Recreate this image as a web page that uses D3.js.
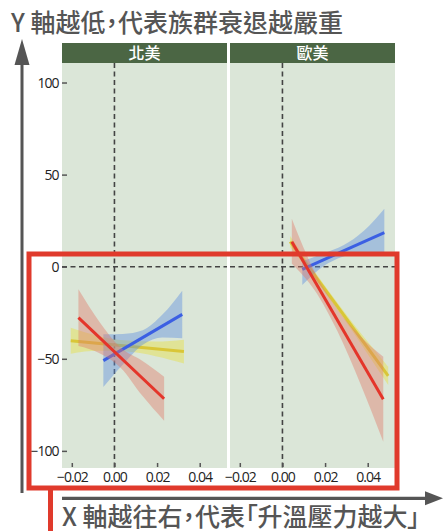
<!DOCTYPE html>
<html>
<head>
<meta charset="utf-8">
<script src="https://cdn.jsdelivr.net/npm/d3@7"></script>
<style>
  body { margin: 0; background: #fff; }
  text { font-family: "Noto Sans CJK TC", "Noto Sans", sans-serif; }
  .note { fill: #555; font-size: 25px; font-weight: 500; font-feature-settings: "palt"; }
  .axis text { fill: #222; font-size: 14px; font-family: "Open Sans", sans-serif; letter-spacing: -1px; }
  .axis line { stroke: #555; stroke-width: 1.5; }
  .axis path { display: none; }
</style>
</head>
<body>
<div id="my_dataviz"></div>
<script>
// data: each row is [x, fit, lower, upper]
var panels = ["北美", "歐美"];
var xTicks = [-0.02, 0, 0.02, 0.04];
var yTicks = [-100, -50, 0, 50, 100];

var naYellow = [[-0.0205, -40.2, -47.2, -33.2], [-0.0073, -41.7, -45.7, -37.7], [0.006, -43.1, -46.1, -40.1], [0.0193, -44.6, -48.6, -40.6], [0.0326, -46.1, -52.6, -39.6]];
var naBlue = [[-0.0052, -51.0, -65.3, -36.7], [0.004, -44.8, -53.1, -36.5], [0.0133, -38.5, -42.4, -34.5], [0.0225, -32.2, -38.4, -26.0], [0.0318, -25.9, -38.8, -13.0]];
var naRed = [[-0.0169, -27.7, -43.1, -12.3], [-0.007, -38.5, -47.0, -30.0], [0.003, -49.5, -55.0, -44.0], [0.013, -60.5, -70.0, -51.0], [0.0233, -71.7, -83.7, -59.7]];

var euYellow = [[0.0036, 13.6, 10.6, 16.6], [0.0151, -4.6, -6.6, -2.6], [0.0266, -22.8, -24.8, -20.8], [0.0381, -41.1, -44.1, -38.1], [0.0496, -59.3, -64.3, -54.3]];
var euBlue = [[0.0093, -1.4, -10.0, 3.0], [0.019, 3.6, 0.1, 7.1], [0.0286, 8.6, 5.6, 11.6], [0.0382, 13.5, 7.5, 19.5], [0.0478, 18.5, 7.5, 31.5]];
var euRed = [[0.0044, 13.6, 1.6, 26.1], [0.0151, -7.8, -12.8, -2.8], [0.0258, -29.1, -35.1, -23.1], [0.0366, -50.7, -63.7, -37.7], [0.0473, -72.0, -95.0, -48.9]];

var panelSeries = [[naYellow, naBlue, naRed], [euYellow, euBlue, euRed]];
var lineColors = ["#d9c637", "#3b5fe3", "#e4352a"];
var bandColors = ["#e8df3c", "#5b8de0", "#df7a6a"];

// sizes
var W = 443, H = 531;
var panelW = 165, panelGap = 3, left = 62, stripTop = 43, stripH = 20, plotTop = 63, plotBottom = 468;

var svg = d3.select("#my_dataviz")
  .append("svg")
    .attr("width", W)
    .attr("height", H);

var x = d3.scaleLinear().domain([-0.0246, 0.0528]).range([0, panelW]);
var y = d3.scaleLinear().domain([-109.3, 110.6]).range([plotBottom, plotTop]);

var band = d3.area()
  .x(d => x(d[0]))
  .y0(d => y(d[2]))
  .y1(d => y(d[3]))
  .curve(d3.curveMonotoneX);

var line = d3.line()
  .x(d => x(d[0]))
  .y(d => y(d[1]));

panels.forEach(function(name, i) {
  var g = svg.append("g")
    .attr("transform", "translate(" + (left + i * (panelW + panelGap)) + ",0)");

  // panel background and strip
  g.append("rect")
    .attr("y", plotTop).attr("width", panelW).attr("height", plotBottom - plotTop)
    .attr("fill", "#dbe6d8");
  g.append("rect")
    .attr("y", stripTop).attr("width", panelW).attr("height", stripH)
    .attr("fill", "#4b6644");
  g.append("text")
    .attr("x", panelW / 2).attr("y", stripTop + 16)
    .attr("text-anchor", "middle")
    .attr("fill", "#fff").attr("font-size", "16px").attr("font-weight", "500")
    .text(name);

  // zero lines
  g.append("line")
    .attr("x1", x(0)).attr("x2", x(0)).attr("y1", plotTop).attr("y2", plotBottom)
    .attr("stroke", "#444").attr("stroke-width", 1.6).attr("stroke-dasharray", "5,3.5");
  g.append("line")
    .attr("x1", 0).attr("x2", panelW).attr("y1", y(0)).attr("y2", y(0))
    .attr("stroke", "#444").attr("stroke-width", 1.6).attr("stroke-dasharray", "5,3.5");

  // bands then lines, one group at a time
  panelSeries[i].forEach(function(s, j) {
    g.append("path").datum(s)
      .attr("d", band)
      .attr("fill", bandColors[j]).attr("opacity", 0.42);
    g.append("path").datum([s[0], s[s.length - 1]])
      .attr("d", line)
      .attr("fill", "none").attr("stroke", lineColors[j]).attr("stroke-width", 3);
  });

  // Add X axis
  g.append("g")
    .attr("class", "axis")
    .attr("transform", "translate(0,463)")
    .call(d3.axisBottom(x).tickValues(xTicks).tickSize(4).tickPadding(5).tickFormat(d3.format(".2f")));

  // Add Y axis on the first panel
  if (i == 0) {
    g.append("g")
      .attr("class", "axis")
      .attr("transform", "translate(5,0)")
      .call(d3.axisLeft(y).tickValues(yTicks).tickSize(5).tickPadding(3.5));
  }
});

// Y arrow
svg.append("line")
  .attr("x1", 22).attr("x2", 22).attr("y1", 60).attr("y2", 493)
  .attr("stroke", "#555").attr("stroke-width", 3);
svg.append("path")
  .attr("d", "M22,39L29.5,65L14.5,65Z")
  .attr("fill", "#555");

// X arrow
svg.append("line")
  .attr("x1", 62).attr("x2", 428).attr("y1", 498.3).attr("y2", 498.3)
  .attr("stroke", "#555").attr("stroke-width", 3.3);
svg.append("path")
  .attr("d", "M443,498.3L425,491.3L425,505.3Z")
  .attr("fill", "#555");

// red highlight box
svg.append("rect")
  .attr("x", 29).attr("y", 254).attr("width", 368).attr("height", 234)
  .attr("fill", "none").attr("stroke", "#e03a2c").attr("stroke-width", 5);
svg.append("line")
  .attr("x1", 50.5).attr("x2", 50.5).attr("y1", 488).attr("y2", H)
  .attr("stroke", "#e03a2c").attr("stroke-width", 5);

// notes
svg.append("text")
  .attr("class", "note")
  .attr("x", 11).attr("y", 32)
  .text("Y 軸越低，代表族群衰退越嚴重");
svg.append("text")
  .attr("class", "note")
  .attr("x", 62).attr("y", 526)
  .text("X 軸越往右，代表「升溫壓力越大」");
</script>
</body>
</html>
